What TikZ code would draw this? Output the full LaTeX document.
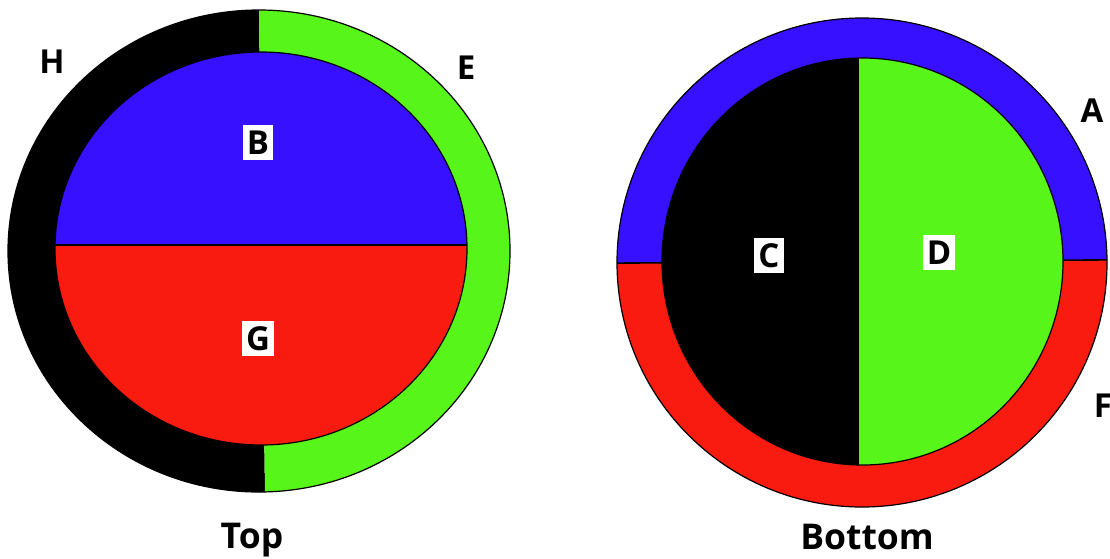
\documentclass[tikz,border=0pt]{standalone}
\usepackage{fontspec}
\setmainfont{Open Sans}
\definecolor{pblue}{RGB}{55,16,255}
\definecolor{pred}{RGB}{250,27,16}
\definecolor{pgreen}{RGB}{87,245,25}
\begin{document}
\begin{tikzpicture}[x=1pt,y=-1pt,
  rim/.style={draw=black,line width=1.2pt},
  divider/.style={draw=black,line width=1.6pt},
  lbl/.style={font=\bfseries\fontsize{33}{36}\selectfont,inner sep=0pt},
  caption/.style={font=\bfseries\fontsize{35.5}{38}\selectfont,inner sep=0pt,anchor=base},
  tag/.style={lbl,fill=white,inner xsep=4pt,minimum height=35pt,text height=24pt,text depth=0pt}]
\useasboundingbox (0,0) rectangle (1110,558);

% ---- Top view: outer ring split left/right ----
\begin{scope}
  \clip (259,251) ellipse[x radius=251pt,y radius=241pt];
  \fill[black] (0,0) -- (258.9,0) -- (265.2,510) -- (0,510) -- cycle;
  \fill[pgreen] (258.9,0) -- (600,0) -- (600,510) -- (265.2,510) -- cycle;
\end{scope}
\draw[rim] (259,251) ellipse[x radius=251pt,y radius=241pt];

% inner disc split top/bottom
\fill[pred] (261,248.5) ellipse[x radius=206pt,y radius=196.5pt];
\begin{scope}
  \clip (261,248.5) ellipse[x radius=206pt,y radius=196.5pt];
  \fill[pblue] (0,0) rectangle (560,245);
  \draw[divider] (0,245) -- (560,245);
\end{scope}
\draw[rim] (261,248.5) ellipse[x radius=206pt,y radius=196.5pt];

% ---- Bottom view: outer ring split top/bottom ----
\begin{scope}
  \clip (862,262.5) ellipse[x radius=245pt,y radius=244.5pt];
  \fill[pred] (600,0) rectangle (1120,520);
  \fill[pblue] (600,0) -- (1120,0) -- (1120,259.8) -- (600,263.2) -- cycle;
  \draw[divider] (600,263.2) -- (1120,259.8);
\end{scope}
\draw[rim] (862,262.5) ellipse[x radius=245pt,y radius=244.5pt];

% inner disc split left/right
\fill[pgreen] (862.5,261.5) ellipse[x radius=200.5pt,y radius=203.5pt];
\begin{scope}
  \clip (862.5,261.5) ellipse[x radius=200.5pt,y radius=203.5pt];
  \fill[black] (600,0) rectangle (858,520);
  \draw[line width=0.8pt,black] (858,0) -- (858,520);
\end{scope}
\draw[rim] (862.5,261.5) ellipse[x radius=200.5pt,y radius=203.5pt];

% ---- labels ----
\node[lbl] (h) at (52,62) {H};
\node[lbl] (e) at (466,68) {E};
\node[tag] (b) at (258,142) {B};
\node[tag] (g) at (258,338) {G};
\node[caption] (top) at (252,548) {Top};

\node[lbl] (a) at (1092,111) {A};
\node[lbl] (f) at (1103,406) {F};
\node[tag] (c) at (769,255) {C};
\node[tag] (d) at (939,252) {D};
\node[caption] (bottom) at (867,549) {Bottom};
\end{tikzpicture}
\end{document}
